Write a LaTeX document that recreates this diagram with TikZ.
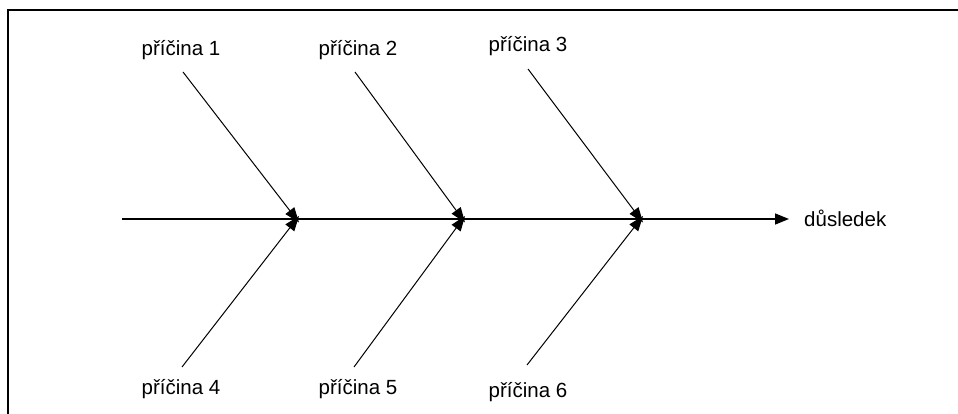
\documentclass[tikz,border=0pt]{standalone}
\usepackage{fontspec}
\setmainfont{Liberation Sans}
\usetikzlibrary{arrows.meta}
\begin{document}
\begin{tikzpicture}[x=1pt,y=-1pt,
  lbl/.style={inner sep=0pt,font=\fontsize{20.5}{24}\selectfont},
  cause/.style={line width=1pt,-{Triangle[length=15pt,width=11pt]}},
  spine/.style={line width=1.5pt,-{Triangle[length=14pt,width=11pt]}},
  frame/.style={line width=1.5pt}]
\useasboundingbox (0,0) rectangle (958,414);
\fill[white] (0,0) rectangle (958,414);
% frame
\coordinate (fr) at (958,10);
\coordinate (fc) at (8,10);
\coordinate (fb) at (8,414);
\draw[frame] (fr) -- (fc) -- (fb);
% labels
\node[lbl] (p1) at (181,50) {příčina 1};
\node[lbl] (p2) at (358,50) {příčina 2};
\node[lbl] (p3) at (528,46) {příčina 3};
\node[lbl] (p4) at (181,389) {příčina 4};
\node[lbl] (p5) at (358,389) {příčina 5};
\node[lbl] (p6) at (528,392) {příčina 6};
\node[lbl,anchor=west] (ef) at (804,218) {důsledek};
% spine
\coordinate (s0) at (122,219);
\coordinate (j1) at (299,219);
\coordinate (j2) at (465,219);
\coordinate (j3) at (643,219);
\coordinate (se) at (789,219);
\draw[spine] (s0) -- (se);
% cause start points
\coordinate (a1) at (183,72);
\coordinate (a2) at (355,72);
\coordinate (a3) at (528,69);
\coordinate (a4) at (182,367);
\coordinate (a5) at (354,367);
\coordinate (a6) at (527,365);
\draw[cause] (a1) -- ([yshift=-3.5]j1);
\draw[cause] (a2) -- ([yshift=-3.5]j2);
\draw[cause] (a3) -- ([yshift=-3.5]j3);
\draw[cause] (a4) -- ([yshift=3]j1);
\draw[cause] (a5) -- ([yshift=3]j2);
\draw[cause] (a6) -- ([yshift=3]j3);
\end{tikzpicture}
\end{document}
